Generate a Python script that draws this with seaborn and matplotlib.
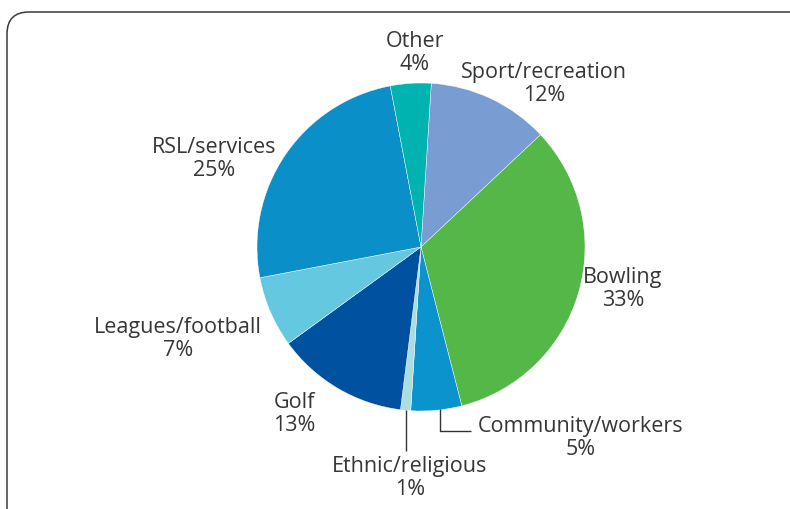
import matplotlib
matplotlib.use("Agg")
import matplotlib.pyplot as plt
from matplotlib.patches import FancyBboxPatch
import seaborn as sns

# Club types and their share of the total (%)
categories = ["Sport/recreation", "Bowling", "Community/workers", "Ethnic/religious",
              "Golf", "Leagues/football", "RSL/services", "Other"]
shares = [12, 33, 5, 1, 13, 7, 25, 4]
slice_colors = ["#779dd3", "#54b848", "#0a93cc", "#aadddf",
                "#0051a0", "#64c8e1", "#0b8fc8", "#00b3b0"]

sns.set_theme(style="white")
plt.rcParams["font.family"] = ["Open Sans", "DejaVu Sans"]

W, H = 790, 509
fig = plt.figure(figsize=(W / 100, H / 100), dpi=100)
ax = fig.add_axes([0, 0, 1, 1])

# pie centre and radius in pixel-like coordinates (y up)
cx, cy, r = 421, H - 247, 164
palette = sns.color_palette(slice_colors)
wedges, _ = ax.pie(shares, colors=palette, startangle=86.4, counterclock=False,
                   center=(cx, cy), radius=r,
                   wedgeprops=dict(linewidth=0.3, edgecolor="white"))

ax.set_xlim(0, W)
ax.set_ylim(0, H)
ax.set_aspect("equal")
ax.axis("off")

# rounded frame
frame = FancyBboxPatch((7, -30), W + 20, H - 12 + 30,
                       boxstyle="round,pad=0,rounding_size=22",
                       transform=ax.transData, facecolor="none",
                       edgecolor="#3a3a3a", linewidth=1.1, clip_on=False)
ax.add_patch(frame)

# label anchor points (centre of each two-line label)
label_pos = {
    "Sport/recreation": (544, 84),
    "Bowling": (623, 289),
    "Community/workers": (581, 438),
    "Ethnic/religious": (410, 478),
    "Golf": (294, 414),
    "Leagues/football": (178, 339),
    "RSL/services": (214, 159),
    "Other": (415, 53),
}
for name, val in zip(categories, shares):
    x, y = label_pos[name]
    ax.text(x, H - y, f"{name}\n{val}%", ha="center", va="center",
            fontsize=15.5, color="#363636", linespacing=1.14)

# leader lines for the two narrow slices
line_kw = dict(color="#333333", linewidth=1.0, solid_capstyle="butt")
ax.plot([406, 406], [H - 410, H - 451], **line_kw)
ax.plot([440, 440, 471], [H - 409, H - 431, H - 431], **line_kw)

fig.savefig("out.png", dpi=100, facecolor="white")
